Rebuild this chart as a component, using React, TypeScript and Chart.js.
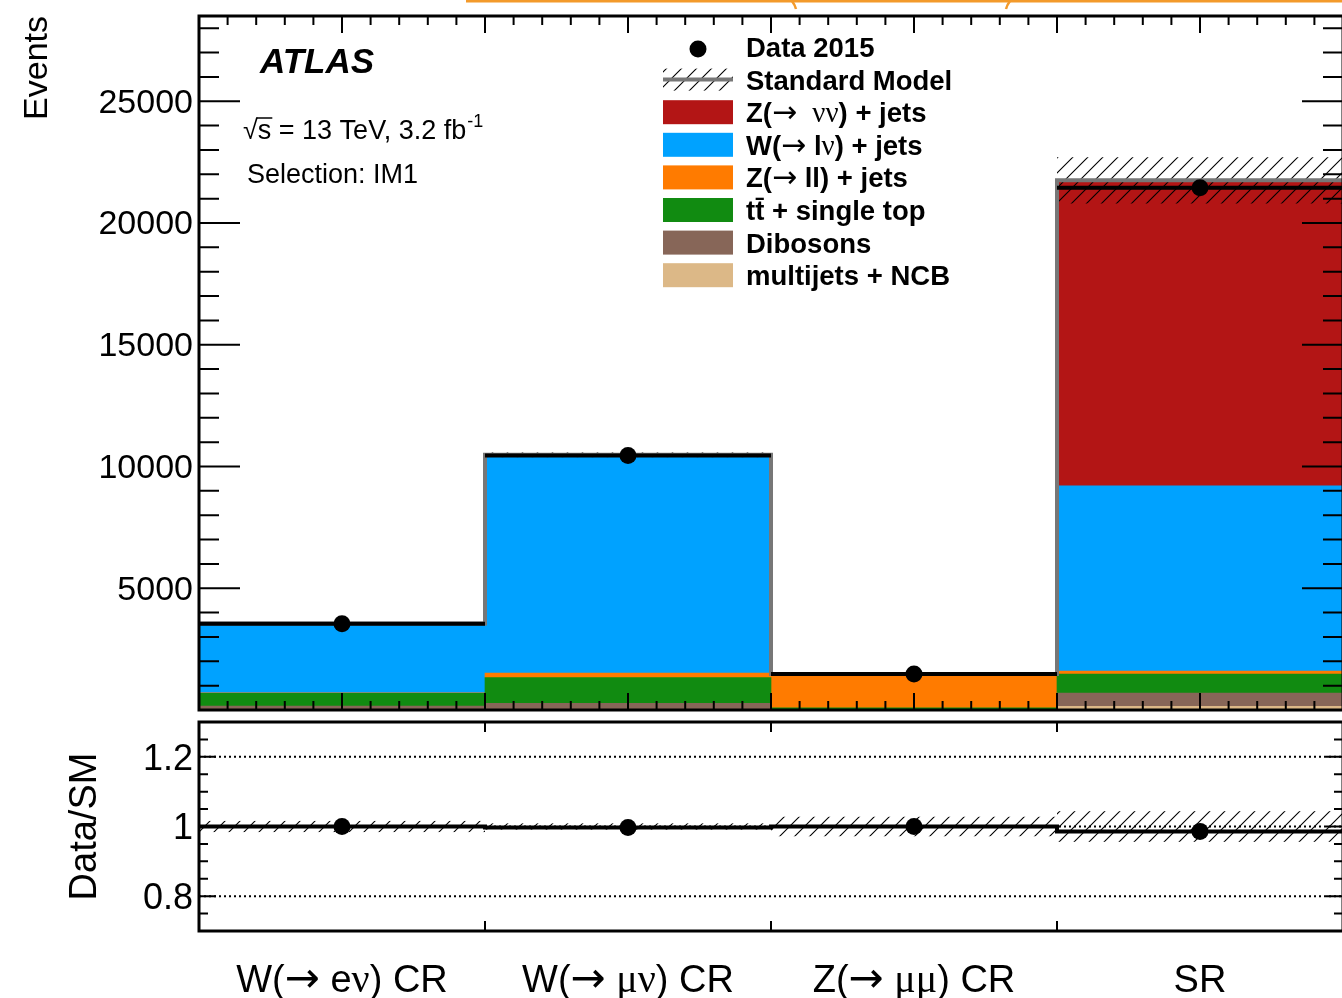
import React, { useEffect, useRef } from 'react';
import { Chart, registerables } from 'chart.js';

Chart.register(...registerables);

const FONT = '"Liberation Sans", Arial, Helvetica, sans-serif';
const SERIF = '"Liberation Serif", "Times New Roman", serif';
const ARROW_FONT = '"DejaVu Sans", sans-serif';

// ---- data ----
const categories = ['W(→ eν) CR', 'W(→ μν) CR', 'Z(→ μμ) CR', 'SR'];
const dataCounts = [3540, 10450, 1480, 21450];
const multijetsNCB = [15, 5, 2, 150];
const dibosons = [150, 270, 20, 540];
const ttbarSingleTop = [520, 1055, 70, 780];
const zllJets = [25, 190, 1380, 130];
const wlnuJets = [2840, 8960, 10, 7610];
const znunuJets = [0, 0, 0, 12540];
const smUncertainty = [60, 95, 40, 950];
const ratioValues = [1.0, 0.997, 1.0, 0.986];
const ratioUncertainty = [0.016, 0.009, 0.028, 0.044];
const yTickValues = [5000, 10000, 15000, 20000, 25000];
const ratioTickValues = [0.8, 1, 1.2];
const ratioGuideValues = [0.8, 1, 1.2];
const dataLabel = 'Data 2015';
const smLabel = 'Standard Model';
const backgroundLabels = [
  'multijets + NCB',
  'Dibosons',
  'tt̄ + single top',
  'Z(→ ll) + jets',
  'W(→ lν) + jets',
  'Z(→  νν) + jets',
];
const backgroundColors = ['#dcb887', '#876658', '#118b11', '#ff7b00', '#00a2ff', '#b31515'];
const atlasLines = ['ATLAS', '√s = 13 TeV, 3.2 fb', '-1', 'Selection: IM1'];

const backgroundSeries = [multijetsNCB, dibosons, ttbarSingleTop, zllJets, wlnuJets, znunuJets];
const smTotals = categories.map((_, i) => backgroundSeries.reduce((s, arr) => s + arr[i], 0));

function runKind(ch: string): number {
  if (/[νμ]/.test(ch)) return 1;
  if (ch === '→') return 2;
  return 0;
}

function drawRich(ctx: CanvasRenderingContext2D, text: string, x: number, y: number, size: number, weight: string, align: 'left' | 'center') {
  const runs: { t: string; k: number }[] = [];
  for (const ch of text) {
    const k = runKind(ch);
    if (runs.length && runs[runs.length - 1].k === k) runs[runs.length - 1].t += ch;
    else runs.push({ t: ch, k });
  }
  const fontFor = (k: number) =>
    k === 1 ? `${Math.round(size * 1.05)}px ${SERIF}` : k === 2 ? `${Math.round(size * 1.1)}px ${ARROW_FONT}` : `${weight} ${size}px ${FONT}`;
  let total = 0;
  const widths = runs.map((r) => {
    ctx.font = fontFor(r.k);
    const w = ctx.measureText(r.t).width;
    total += w;
    return w;
  });
  let cx = align === 'center' ? x - total / 2 : x;
  ctx.textAlign = 'left';
  ctx.textBaseline = 'alphabetic';
  runs.forEach((r, i) => {
    ctx.font = fontFor(r.k);
    ctx.fillText(r.t, cx, y);
    cx += widths[i];
  });
}

function makeHatch(ctx: CanvasRenderingContext2D): CanvasPattern | string {
  const c = document.createElement('canvas');
  c.width = 15;
  c.height = 15;
  const g = c.getContext('2d');
  if (!g) return '#000';
  g.strokeStyle = '#000';
  g.lineWidth = 1.1;
  g.beginPath();
  g.moveTo(0, 15);
  g.lineTo(15, 0);
  g.moveTo(-2, 2);
  g.lineTo(2, -2);
  g.moveTo(13, 17);
  g.lineTo(17, 13);
  g.stroke();
  return ctx.createPattern(c, 'repeat') || '#000';
}

function fixAxis(scale: any) {
  scale.width = 199;
  scale.paddingTop = 0;
  scale.paddingBottom = 0;
}

const mainOverlay = {
  id: 'mainOverlay',
  afterDatasetDraw(chart: any, args: any) {
    if (args.index !== 0) return;
    const { ctx, chartArea: a, scales } = chart;
    const x = scales.x;
    const y = scales.y;
    const w = x.getPixelForValue(1) - x.getPixelForValue(0);
    ctx.save();
    ctx.beginPath();
    ctx.rect(a.left, a.top, a.right - a.left, a.bottom - a.top);
    ctx.clip();
    ctx.fillStyle = makeHatch(ctx);
    categories.forEach((_, i) => {
      const x0 = x.getPixelForValue(i) - w / 2;
      const y1 = y.getPixelForValue(smTotals[i] + smUncertainty[i]);
      const y2 = y.getPixelForValue(smTotals[i] - smUncertainty[i]);
      ctx.fillRect(x0, y1, w, y2 - y1);
    });
    ctx.strokeStyle = '#777777';
    ctx.lineWidth = 4;
    ctx.beginPath();
    categories.forEach((_, i) => {
      const x0 = x.getPixelForValue(i) - w / 2;
      const py = y.getPixelForValue(smTotals[i]);
      if (i === 0) ctx.moveTo(x0, py);
      else ctx.lineTo(x0, py);
      ctx.lineTo(x0 + w, py);
    });
    ctx.stroke();
    ctx.strokeStyle = '#000';
    ctx.lineWidth = 4;
    ctx.beginPath();
    categories.forEach((_, i) => {
      const x0 = x.getPixelForValue(i) - w / 2;
      const py = y.getPixelForValue(dataCounts[i]);
      ctx.moveTo(x0, py);
      ctx.lineTo(x0 + w, py);
    });
    ctx.stroke();
    ctx.restore();
  },
  afterDraw(chart: any) {
    const { ctx, chartArea: a, scales } = chart;
    const x = scales.x;
    const y = scales.y;
    const w = x.getPixelForValue(1) - x.getPixelForValue(0);
    ctx.save();
    ctx.strokeStyle = '#000';
    ctx.lineWidth = 2;
    ctx.beginPath();
    categories.forEach((_, i) => {
      for (let k = 0; k < 10; k++) {
        const px = x.getPixelForValue(i) - w / 2 + (k * w) / 10;
        const len = k % 5 === 0 ? 17 : 9;
        ctx.moveTo(px, a.bottom);
        ctx.lineTo(px, a.bottom - len);
        ctx.moveTo(px, a.top);
        ctx.lineTo(px, a.top + len);
      }
    });
    for (let v = 0; v <= y.max; v += 1000) {
      const py = y.getPixelForValue(v);
      const len = v % 5000 === 0 ? 41 : 20;
      ctx.moveTo(a.left, py);
      ctx.lineTo(a.left + len, py);
      ctx.moveTo(a.right, py);
      ctx.lineTo(a.right - len, py);
    }
    ctx.stroke();
    ctx.lineWidth = 3;
    ctx.strokeRect(a.left, a.top, a.right - a.left, a.bottom - a.top);

    // orange bracket (outer figure decoration)
    ctx.strokeStyle = '#f39a2b';
    ctx.lineWidth = 3;
    ctx.beginPath();
    ctx.moveTo(466, 1);
    ctx.lineTo(1350, 1);
    ctx.stroke();
    ctx.lineWidth = 2.5;
    ctx.beginPath();
    ctx.moveTo(792, 1);
    ctx.quadraticCurveTo(795, 5, 796, 9);
    ctx.moveTo(1010, 1);
    ctx.quadraticCurveTo(1007, 5, 1006, 9);
    ctx.stroke();

    ctx.fillStyle = '#000';
    ctx.textAlign = 'left';
    ctx.textBaseline = 'alphabetic';
    ctx.font = `italic bold 35px ${FONT}`;
    ctx.fillText(atlasLines[0], 260, 73);
    ctx.font = `27px ${FONT}`;
    ctx.fillText(atlasLines[1], 243, 139);
    const wl = ctx.measureText(atlasLines[1]).width;
    const wRoot = ctx.measureText('√').width;
    const wS = ctx.measureText('s').width;
    ctx.strokeStyle = '#000';
    ctx.lineWidth = 1.5;
    ctx.beginPath();
    ctx.moveTo(243 + wRoot - 1.5, 118);
    ctx.lineTo(243 + wRoot + wS + 1, 118);
    ctx.stroke();
    ctx.font = `18px ${FONT}`;
    ctx.fillText(atlasLines[2], 243 + wl + 1, 127);
    ctx.font = `27px ${FONT}`;
    ctx.fillText(atlasLines[3], 247, 183);

    const rowY = (r: number) => 47 + r * 32.6;
    const boxX = 663;
    const boxW = 70;
    const textX = 746;
    const ts = 27.5;
    ctx.fillStyle = '#000';
    ctx.beginPath();
    ctx.arc(698, rowY(0) + 2, 8.5, 0, Math.PI * 2);
    ctx.fill();
    drawRich(ctx, dataLabel, textX, rowY(0) + 10, ts, 'bold', 'left');
    ctx.save();
    ctx.fillStyle = makeHatch(ctx);
    ctx.fillRect(boxX, rowY(1) - 11, boxW, 22);
    ctx.restore();
    ctx.strokeStyle = '#777777';
    ctx.lineWidth = 4;
    ctx.beginPath();
    ctx.moveTo(boxX, rowY(1));
    ctx.lineTo(boxX + boxW, rowY(1));
    ctx.stroke();
    ctx.fillStyle = '#000';
    drawRich(ctx, smLabel, textX, rowY(1) + 10, ts, 'bold', 'left');
    const ds = chart.data.datasets.filter((d: any) => d.type !== 'line');
    ds.slice().reverse().forEach((d: any, j: number) => {
      const r = j + 2;
      ctx.fillStyle = d.backgroundColor;
      ctx.fillRect(boxX, rowY(r) - 12, boxW, 24);
      ctx.fillStyle = '#000';
      drawRich(ctx, d.label, textX, rowY(r) + 10, ts, 'bold', 'left');
    });
    ctx.restore();
  },
};

const ratioOverlay = {
  id: 'ratioOverlay',
  beforeDatasetsDraw(chart: any) {
    const { ctx, chartArea: a, scales } = chart;
    const x = scales.x;
    const y = scales.y;
    const w = x.getPixelForValue(1) - x.getPixelForValue(0);
    ctx.save();
    ctx.beginPath();
    ctx.rect(a.left, a.top, a.right - a.left, a.bottom - a.top);
    ctx.clip();
    ctx.strokeStyle = '#000';
    ctx.lineWidth = 2;
    ctx.setLineDash([2, 3]);
    ctx.beginPath();
    ratioGuideValues.forEach((v) => {
      const py = y.getPixelForValue(v);
      ctx.moveTo(a.left, py);
      ctx.lineTo(a.right, py);
    });
    ctx.stroke();
    ctx.setLineDash([]);
    ctx.fillStyle = makeHatch(ctx);
    categories.forEach((_, i) => {
      const x0 = x.getPixelForValue(i) - w / 2;
      const y1 = y.getPixelForValue(1 + ratioUncertainty[i]);
      const y2 = y.getPixelForValue(1 - ratioUncertainty[i]);
      ctx.fillRect(x0, y1, w, y2 - y1);
    });
    ctx.strokeStyle = '#000';
    ctx.lineWidth = 4;
    ctx.beginPath();
    categories.forEach((_, i) => {
      const x0 = x.getPixelForValue(i) - w / 2;
      const py = y.getPixelForValue(ratioValues[i]);
      if (i === 0) ctx.moveTo(x0, py);
      else ctx.lineTo(x0, py);
      ctx.lineTo(x0 + w, py);
    });
    ctx.stroke();
    ctx.restore();
  },
  afterDraw(chart: any) {
    const { ctx, chartArea: a, scales } = chart;
    const x = scales.x;
    const y = scales.y;
    const w = x.getPixelForValue(1) - x.getPixelForValue(0);
    ctx.save();
    ctx.strokeStyle = '#000';
    ctx.lineWidth = 2;
    ctx.beginPath();
    categories.forEach((_, i) => {
      const px = x.getPixelForValue(i) - w / 2;
      ctx.moveTo(px, a.bottom);
      ctx.lineTo(px, a.bottom - 10);
      ctx.moveTo(px, a.top);
      ctx.lineTo(px, a.top + 10);
    });
    for (let k = 0; k <= 12; k++) {
      const v = 0.7 + k * 0.05;
      const py = y.getPixelForValue(v);
      const len = k % 4 === 2 ? 17 : 9;
      ctx.moveTo(a.left, py);
      ctx.lineTo(a.left + len, py);
      ctx.moveTo(a.right, py);
      ctx.lineTo(a.right - len, py);
    }
    ctx.stroke();
    ctx.lineWidth = 3;
    ctx.strokeRect(a.left, a.top, a.right - a.left, a.bottom - a.top);
    ctx.fillStyle = '#000';
    chart.data.labels.forEach((lab: string, i: number) => {
      drawRich(ctx, lab, x.getPixelForValue(i), a.bottom + 61, 38, 'normal', 'center');
    });
    ctx.restore();
  },
};

export default function App() {
  const mainRef = useRef<HTMLCanvasElement>(null);
  const ratioRef = useRef<HTMLCanvasElement>(null);

  useEffect(() => {
    if (!mainRef.current || !ratioRef.current) return;
    const common: any = {
      animation: false,
      responsive: false,
      devicePixelRatio: 1,
      events: [],
      plugins: { legend: { display: false }, tooltip: { enabled: false } },
    };
    const main = new Chart(mainRef.current, {
      type: 'bar',
      data: {
        labels: categories,
        datasets: [
          ...backgroundSeries.map((arr, i) => ({
            type: 'bar' as const,
            label: backgroundLabels[i],
            data: arr,
            backgroundColor: backgroundColors[i],
            borderWidth: 0,
            barPercentage: 1,
            categoryPercentage: 1,
          })),
          {
            type: 'line' as const,
            label: dataLabel,
            data: dataCounts,
            showLine: false,
            pointRadius: 8.5,
            pointBackgroundColor: '#000',
            pointBorderWidth: 0,
            order: -1,
          },
        ] as any,
      },
      options: {
        ...common,
        layout: { autoPadding: false, padding: { left: 0, right: 7, top: 16, bottom: 6 } },
        scales: {
          x: { type: 'category', display: false, stacked: true, offset: true },
          y: {
            stacked: true,
            min: 0,
            max: 28500,
            afterFit: fixAxis,
            afterBuildTicks: (s: any) => {
              s.ticks = yTickValues.map((v) => ({ value: v }));
            },
            grid: { display: false, drawTicks: false },
            border: { display: false },
            ticks: {
              font: { family: FONT, size: 34 },
              color: '#000',
              padding: 6,
              labelOffset: 2,
              autoSkip: false,
              callback: (v: any) => String(v),
            },
            title: {
              display: true,
              text: 'Events',
              align: 'end',
              color: '#000',
              font: { family: FONT, size: 34 },
              padding: { top: 17, bottom: 0 },
            },
          },
        },
      },
      plugins: [mainOverlay],
    } as any);

    const ratio = new Chart(ratioRef.current, {
      type: 'line',
      data: {
        labels: categories,
        datasets: [
          {
            label: 'Data/SM',
            data: ratioValues,
            showLine: false,
            pointRadius: 8.5,
            pointBackgroundColor: '#000',
            pointBorderWidth: 0,
          },
        ],
      },
      options: {
        ...common,
        layout: { autoPadding: false, padding: { left: 0, right: 7, top: 6, bottom: 67 } },
        scales: {
          x: { type: 'category', display: false, offset: true },
          y: {
            min: 0.7,
            max: 1.3,
            afterFit: fixAxis,
            afterBuildTicks: (s: any) => {
              s.ticks = ratioTickValues.map((v) => ({ value: v }));
            },
            grid: { display: false, drawTicks: false },
            border: { display: false },
            ticks: {
              font: { family: FONT, size: 36 },
              color: '#000',
              padding: 6,
              labelOffset: 3,
              autoSkip: false,
              callback: (v: any) => String(v),
            },
            title: {
              display: true,
              text: 'Data/SM',
              align: 'center',
              color: '#000',
              font: { family: FONT, size: 38 },
              padding: { top: 63, bottom: 0 },
            },
          },
        },
      },
      plugins: [ratioOverlay],
    } as any);

    return () => {
      main.destroy();
      ratio.destroy();
    };
  }, []);

  return (
    <div
      style={{
        position: 'fixed',
        left: 0,
        top: 0,
        width: 1342,
        height: 998,
        overflow: 'hidden',
        background: '#fff',
      }}
    >
      <canvas ref={mainRef} width={1350} height={716} style={{ position: 'absolute', left: 0, top: 0 }} />
      <canvas ref={ratioRef} width={1350} height={282} style={{ position: 'absolute', left: 0, top: 716 }} />
    </div>
  );
}
